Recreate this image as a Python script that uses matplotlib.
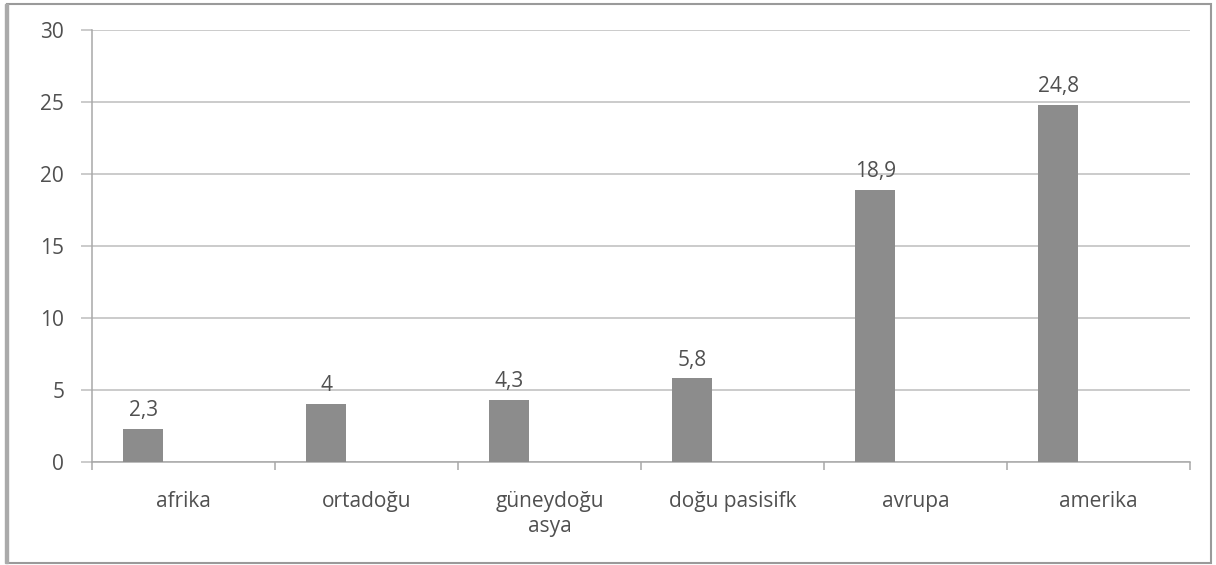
import numpy as np
import matplotlib.pyplot as plt
from matplotlib.patches import Rectangle

regions = ['afrika', 'ortadoğu', 'güneydoğu\nasya', 'doğu pasisifk', 'avrupa', 'amerika']
values = [2.3, 4, 4.3, 5.8, 18.9, 24.8]
value_labels = ['2,3', '4', '4,3', '5,8', '18,9', '24,8']

plt.rcParams['font.family'] = ['Open Sans', 'DejaVu Sans']

fig = plt.figure(figsize=(12.16, 5.65), dpi=100)
ax = fig.add_axes([92 / 1216, 1 - 462 / 565, (1190 - 92) / 1216, (462 - 30) / 565])

x = np.arange(len(regions))
# one series in a two-slot cluster, so the bar sits left of the category centre
bars = ax.bar(x - 0.22, values, width=0.22, color='#8c8c8c', zorder=3)
for b, lab in zip(bars, value_labels):
    ax.text(b.get_x() + b.get_width() / 2, b.get_height() + 0.55, lab,
            ha='center', va='bottom', fontsize=15, color='#505050')

ax.set_xlim(-0.5, len(regions) - 0.5)
ax.set_ylim(0, 30)
ax.set_yticks(range(0, 31, 5))
ax.yaxis.grid(True, color='#bdbdbd', linewidth=1.1, zorder=0)

ax.set_xticks(np.arange(-0.5, len(regions), 1.0))
ax.set_xticklabels([])
ax.set_xticks(x, regions, minor=True)
ax.tick_params(axis='x', which='minor', length=0, pad=21, labelsize=15,
               labelcolor='#505050')
ax.tick_params(axis='x', which='major', length=6, color='#a8a8a8', width=1.1)
ax.tick_params(axis='y', length=8, color='#bdbdbd', width=1.1, pad=12, labelsize=15,
               labelcolor='#505050')
for t in ax.get_xticklabels(minor=True):
    t.set_linespacing(1.25)

for side in ['top', 'right']:
    ax.spines[side].set_visible(False)
for side in ['left', 'bottom']:
    ax.spines[side].set_color('#a8a8a8')
    ax.spines[side].set_linewidth(1.1)

# frame around the whole chart
fig.patches.append(Rectangle((7 / 1216, 2 / 565), 1204 / 1216, 559 / 565,
                             transform=fig.transFigure, fill=False,
                             edgecolor='#9a9a9a', linewidth=1.5))
fig.patches.append(Rectangle((5 / 1216, 2 / 565), 3 / 1216, 559 / 565,
                             transform=fig.transFigure, color='#aaaaaa'))

fig.savefig('out.png', dpi=100)
